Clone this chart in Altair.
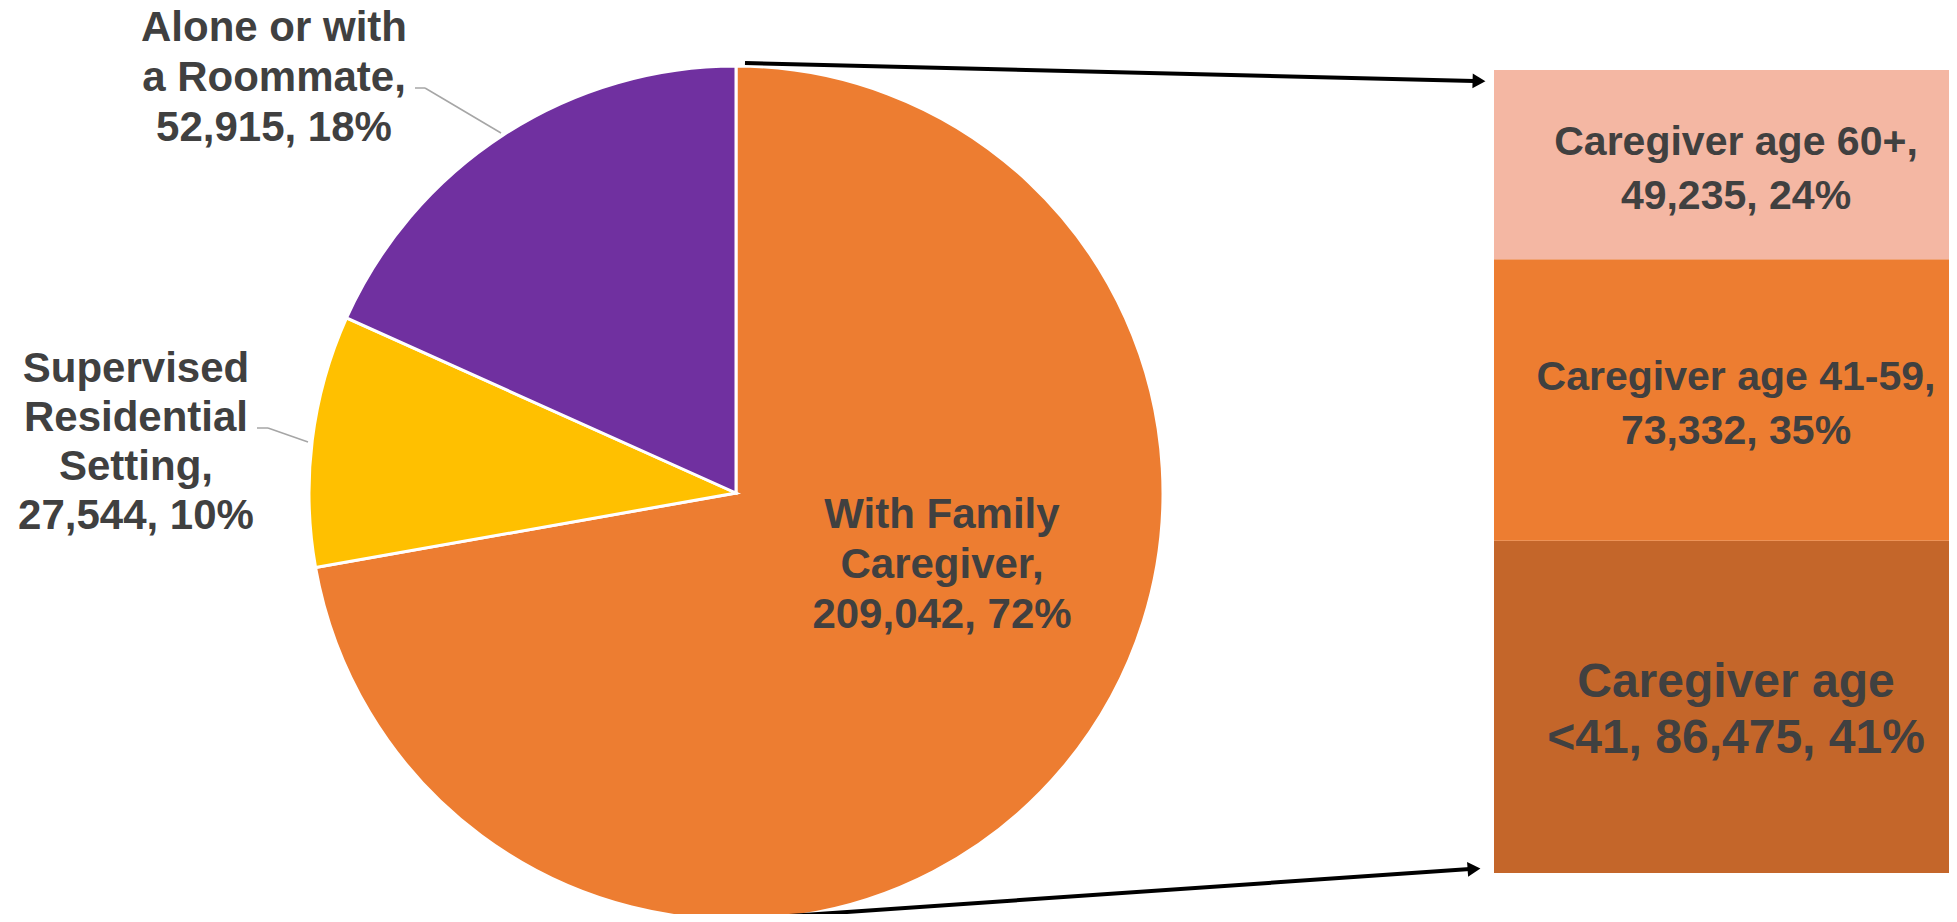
import altair as alt
import pandas as pd

# ---- data ----
living = ["With Family Caregiver", "Supervised Residential Setting", "Alone or with a Roommate"]
living_counts = [209042, 27544, 52915]
living_pcts = [72, 10, 18]
living_heads = [["With Family", "Caregiver,"], ["Supervised", "Residential", "Setting,"], ["Alone or with", "a Roommate,"]]
living_colors = ["#ED7D31", "#FFC000", "#7030A0"]

age_groups = ["Caregiver age <41", "Caregiver age 41-59", "Caregiver age 60+"]
age_counts = [86475, 73332, 49235]
age_pcts = [41, 35, 24]
age_heads = [["Caregiver age", "<41, "], ["Caregiver age 41-59,", ""], ["Caregiver age 60+,", ""]]
age_colors = ["#C4662A", "#ED7D31", "#F4B7A3"]

# ---- tables ----
def make_label(heads, c, p):
    lines = list(heads)
    tail = f"{c:,}, {p}%"
    if lines[-1].endswith(" "):
        lines[-1] = lines[-1] + tail
    else:
        lines[-1] = tail if lines[-1] == "" else lines[-1]
        if lines[-1] != tail:
            lines.append(tail)
    return "\n".join(lines)

pie_df = pd.DataFrame({
    "cat": living,
    "value": living_counts,
    "idx": list(range(len(living))),
    "label": [make_label(h, c, p) for h, c, p in zip(living_heads, living_counts, living_pcts)],
})

cum = 0
y0s, y1s = [], []
for c in age_counts:
    y0s.append(cum)
    cum += c
    y1s.append(cum)
box_df = pd.DataFrame({
    "grp": age_groups,
    "value": age_counts,
    "y0": y0s,
    "y1": y1s,
    "mid": [(a + b) / 2 for a, b in zip(y0s, y1s)],
    "label": [make_label(h, c, p) for h, c, p in zip(age_heads, age_counts, age_pcts)],
})

W, H = 1941, 906
FONT = "Liberation Sans"
TXT = "#404040"

yscale = alt.Scale(domain=[0, sum(age_counts)], range=[865, 62])

pie = alt.Chart(pie_df).mark_arc(radius=427, stroke="white", strokeWidth=3).encode(
    theta=alt.Theta("value:Q", stack=True),
    color=alt.Color("cat:N", scale=alt.Scale(domain=living, range=living_colors), legend=None),
    order=alt.Order("idx:Q"),
    x=alt.value(728),
    y=alt.value(485),
)

def pie_label(cat, x, y, lh):
    return alt.Chart(pie_df).transform_filter(alt.datum.cat == cat).mark_text(
        font=FONT, fontWeight="bold", fontSize=42, color=TXT, align="center",
        baseline="alphabetic", lineBreak="\n", lineHeight=lh,
    ).encode(text="label:N", x=alt.value(x), y=alt.value(y))

lab_family = pie_label(living[0], 934, 520, 50)
lab_super = pie_label(living[1], 128, 374, 49)
lab_alone = pie_label(living[2], 266, 33, 50)

one = pd.DataFrame({"a": [0]})

def seg(x, y, x2, y2, color, w):
    return alt.Chart(one).mark_rule(color=color, strokeWidth=w).encode(
        x=alt.value(x), y=alt.value(y), x2=alt.value(x2), y2=alt.value(y2))

leaders = [
    seg(407, 80, 417, 80, "#A6A6A6", 1.5),
    seg(417, 80, 493, 125, "#A6A6A6", 1.5),
    seg(249, 420, 260, 420, "#A6A6A6", 1.5),
    seg(260, 420, 300, 434, "#A6A6A6", 1.5),
]

arrows = [
    seg(737, 55, 1466, 73, "black", 4),
    seg(723, 912, 1462, 861, "black", 4),
    alt.Chart(one).mark_point(shape="triangle-right", filled=True, color="black", size=220, opacity=1, angle=1.4).encode(
        x=alt.value(1471), y=alt.value(73)),
    alt.Chart(one).mark_point(shape="triangle-right", filled=True, color="black", size=220, opacity=1, angle=356).encode(
        x=alt.value(1466), y=alt.value(861)),
]

boxes = alt.Chart(box_df).mark_rect().encode(
    y=alt.Y("y0:Q", scale=yscale, axis=None),
    y2="y1:Q",
    x=alt.value(1486),
    x2=alt.value(W),
    color=alt.Color("grp:N", scale=alt.Scale(domain=age_groups, range=age_colors), legend=None),
)

box_text_small = alt.Chart(box_df).transform_filter(alt.datum.grp != age_groups[0]).mark_text(
    font=FONT, fontWeight="bold", fontSize=41, color=TXT, align="center",
    baseline="middle", lineBreak="\n", lineHeight=54, dy=-22,
).encode(y=alt.Y("mid:Q", scale=yscale, axis=None), x=alt.value(1728), text="label:N")

box_text_big = alt.Chart(box_df).transform_filter(alt.datum.grp == age_groups[0]).mark_text(
    font=FONT, fontWeight="bold", fontSize=48, color=TXT, align="center",
    baseline="middle", lineBreak="\n", lineHeight=56, dy=-24,
).encode(y=alt.Y("mid:Q", scale=yscale, axis=None), x=alt.value(1728), text="label:N")

chart = alt.layer(
    pie, lab_family, lab_super, lab_alone, *leaders, boxes, box_text_small, box_text_big, *arrows
).resolve_scale(color="independent").properties(
    width=W, height=H, padding=0, autosize=alt.AutoSizeParams(type="none"), background="white"
).configure_view(stroke=None)

chart.save("out.html", embed_options={"renderer": "svg", "actions": False})
